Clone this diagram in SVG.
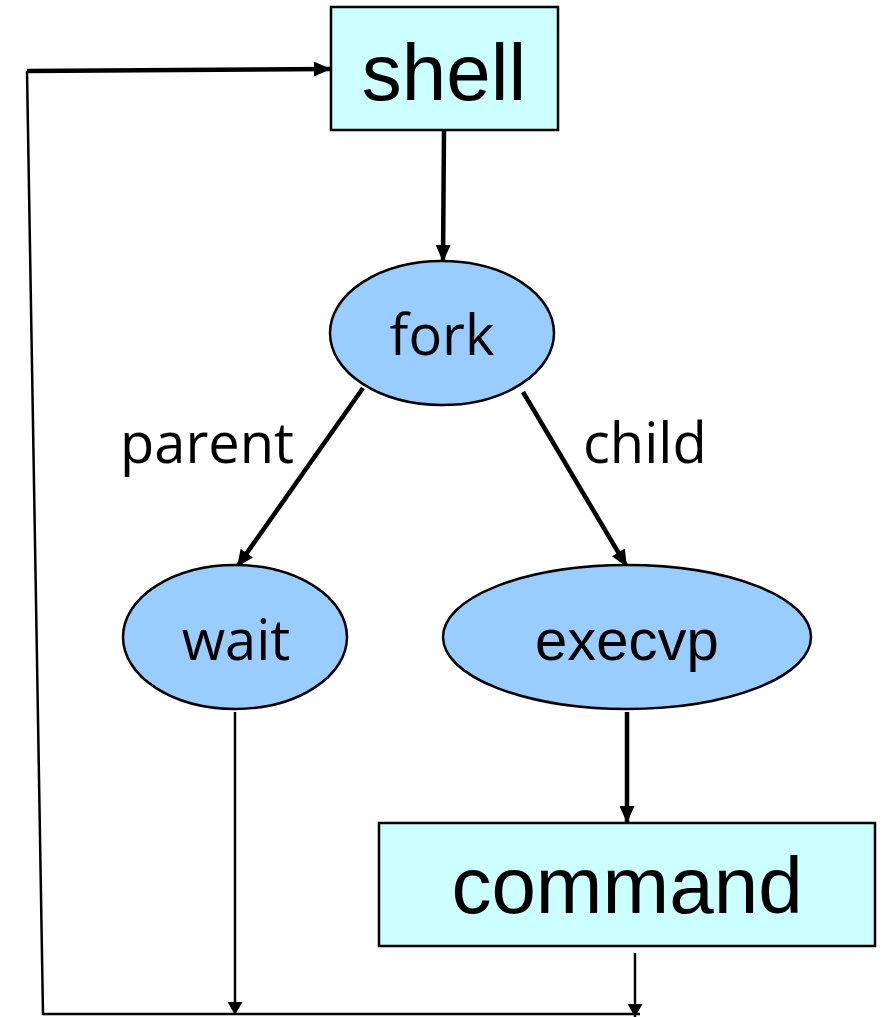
<svg xmlns="http://www.w3.org/2000/svg" width="882" height="1017" viewBox="0 0 882 1017">
  <style>
    .box { fill: #CCFFFF; stroke: #000; stroke-width: 2.5; }
    .oval { fill: #99CCFF; stroke: #000; stroke-width: 2.5; }
    .arial { font-family: "Liberation Sans", Arial, sans-serif; fill: #000; }
    .gothic { font-family: "Open Sans", "Liberation Sans", sans-serif; fill: #000; font-size: 56px; }
    .thick { stroke: #000; stroke-width: 4.5; fill: none; }
    .thin { stroke: #000; stroke-width: 2.5; fill: none; }
  </style>
  <defs>
    <marker id="headThick" markerUnits="userSpaceOnUse" markerWidth="17" markerHeight="15" refX="17" refY="7.5" orient="auto">
      <path d="M0,0 L17,7.5 L0,15 z" fill="#000"/>
    </marker>
    <marker id="headThin" markerUnits="userSpaceOnUse" markerWidth="13" markerHeight="15" refX="13" refY="7.5" orient="auto">
      <path d="M0,0 L13,7.5 L0,15 z" fill="#000"/>
    </marker>
  </defs>

  <rect width="882" height="1017" fill="#fff"/>

  <!-- connectors -->
  <g id="connectors">
    <line class="thick" x1="27" y1="71" x2="331" y2="69" marker-end="url(#headThick)"/>
    <polyline class="thin" points="27,71 43,1014 640,1014"/>
    <line class="thick" x1="444" y1="130" x2="443" y2="262" marker-end="url(#headThick)"/>
    <line class="thick" x1="363" y1="388" x2="237" y2="567" marker-end="url(#headThick)"/>
    <line class="thick" x1="523" y1="392" x2="627" y2="567" marker-end="url(#headThick)"/>
    <line class="thick" x1="627" y1="712" x2="627" y2="823" marker-end="url(#headThick)"/>
    <line class="thin" x1="235" y1="712" x2="235" y2="1015" marker-end="url(#headThin)"/>
    <line class="thin" x1="635" y1="953" x2="635" y2="1017" marker-end="url(#headThin)"/>
    <text class="gothic" x="120" y="463">parent</text>
    <text class="gothic" x="583" y="463">child</text>
  </g>

  <g id="shell">
    <rect class="box" x="331" y="7" width="227" height="123"/>
    <text class="arial" x="444" y="100" font-size="80" text-anchor="middle">shell</text>
  </g>

  <g id="fork">
    <ellipse class="oval" cx="442" cy="333" rx="112" ry="72"/>
    <text class="gothic" x="442" y="355" text-anchor="middle">fork</text>
  </g>

  <g id="wait">
    <ellipse class="oval" cx="235" cy="637" rx="112" ry="72"/>
    <text class="gothic" x="236" y="660" text-anchor="middle">wait</text>
  </g>

  <g id="execvp">
    <ellipse class="oval" cx="627" cy="637" rx="184" ry="72"/>
    <text class="arial" x="627" y="660" font-size="58" text-anchor="middle">execvp</text>
  </g>

  <g id="command">
    <rect class="box" x="379" y="823" width="496" height="123"/>
    <text class="arial" x="627" y="913" font-size="80" text-anchor="middle">command</text>
  </g>
</svg>
